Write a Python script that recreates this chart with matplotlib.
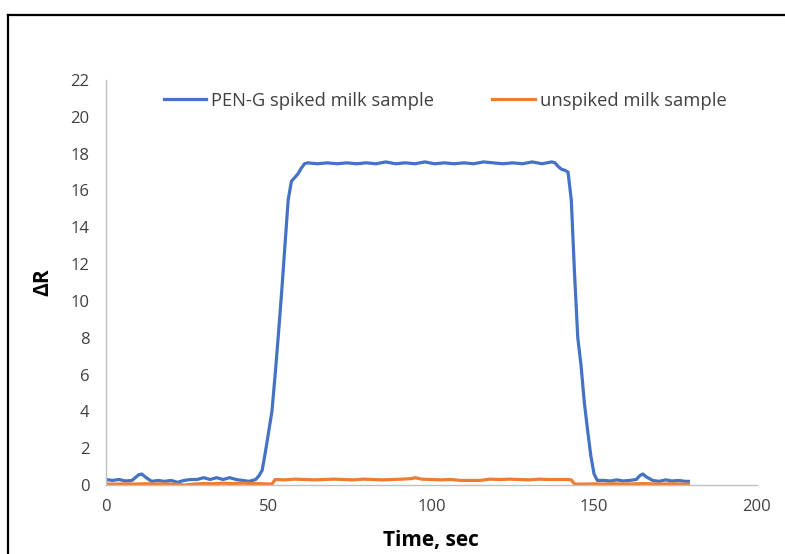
import matplotlib.pyplot as plt
from matplotlib.lines import Line2D

# PEN-G spiked milk sample (time in s, delta R)
spiked_t = [0, 2, 4, 6, 8, 10, 11, 12, 14, 16, 18, 20, 22, 24, 26, 28, 30, 32, 34, 36,
            38, 40, 42, 44, 46, 47, 48, 49, 50, 51, 52, 53, 54, 55, 56, 57, 58, 59, 60, 61,
            62, 65, 68, 71, 74, 77, 80, 83, 86, 89, 92, 95, 98, 101, 104, 107, 110, 113,
            116, 119, 122, 125, 128, 131, 134, 137, 138, 139, 140, 141, 142, 143, 144, 145,
            146, 147, 148, 149, 150, 151, 153, 155, 157, 159, 161, 163, 164, 165, 166, 168,
            170, 172, 174, 176, 178, 179]
spiked_r = [0.3, 0.25, 0.3, 0.22, 0.25, 0.55, 0.6, 0.45, 0.2, 0.25, 0.2, 0.25, 0.15, 0.25,
            0.3, 0.3, 0.4, 0.3, 0.4, 0.3, 0.4, 0.3, 0.25, 0.2, 0.3, 0.5, 0.8, 1.8, 2.9, 4.0,
            6.0, 8.2, 10.5, 13.0, 15.5, 16.5, 16.7, 16.9, 17.2, 17.45, 17.5, 17.45, 17.5,
            17.45, 17.5, 17.45, 17.5, 17.45, 17.55, 17.45, 17.5, 17.45, 17.55, 17.45, 17.5,
            17.45, 17.5, 17.45, 17.55, 17.5, 17.45, 17.5, 17.45, 17.55, 17.45, 17.55, 17.5,
            17.3, 17.15, 17.1, 17.0, 15.5, 11.5, 8.0, 6.5, 4.5, 3.0, 1.6, 0.6, 0.25, 0.25,
            0.22, 0.28, 0.22, 0.25, 0.3, 0.5, 0.6, 0.45, 0.25, 0.2, 0.28, 0.22, 0.25, 0.2, 0.2]

# unspiked milk sample
plain_t = [0, 3, 6, 9, 12, 15, 18, 21, 24, 27, 30, 33, 36, 39, 42, 45, 48, 51, 52, 55,
           58, 61, 64, 67, 70, 73, 76, 79, 82, 85, 88, 91, 94, 95, 97, 100, 103, 106, 109,
           112, 115, 118, 121, 124, 127, 130, 133, 136, 139, 142, 143, 144, 147, 150, 153,
           156, 159, 162, 165, 168, 171, 174, 177, 179]
plain_r = [0.05, 0.05, 0.06, 0.05, 0.07, 0.05, 0.06, 0.05, 0.0, 0.05, 0.08, 0.07, 0.1, 0.08,
           0.1, 0.08, 0.07, 0.05, 0.3, 0.28, 0.32, 0.3, 0.28, 0.3, 0.32, 0.3, 0.28, 0.32,
           0.3, 0.28, 0.3, 0.32, 0.35, 0.4, 0.32, 0.3, 0.28, 0.3, 0.25, 0.25, 0.25, 0.32,
           0.3, 0.32, 0.3, 0.28, 0.32, 0.3, 0.3, 0.3, 0.28, 0.05, 0.05, 0.06, 0.05, 0.07,
           0.05, 0.06, 0.08, 0.06, 0.05, 0.07, 0.05, 0.05]

x_ticks = [0, 50, 100, 150, 200]
y_ticks = list(range(0, 23, 2))

plt.rcParams['font.family'] = ['Open Sans', 'DejaVu Sans']

fig = plt.figure(figsize=(7.85, 5.54), dpi=100)
ax = fig.add_axes([0.135, 0.1245, 0.829, 0.7311])

ax.plot(spiked_t, spiked_r, color='#4472C4', lw=2.3, label='PEN-G spiked milk sample')
ax.plot(plain_t, plain_r, color='#ED7D31', lw=2.3, label='unspiked milk sample')

ax.set_xlim(0, 200)
ax.set_ylim(0, 22)
ax.set_xticks(x_ticks)
ax.set_yticks(y_ticks)
ax.tick_params(axis='both', length=0, labelsize=12, colors='#404040')
ax.tick_params(axis='y', pad=12)
ax.tick_params(axis='x', pad=10)

for s in ['top', 'right']:
    ax.spines[s].set_visible(False)
for s in ['left', 'bottom']:
    ax.spines[s].set_color('#C0C0C0')
    ax.spines[s].set_linewidth(1)

ax.set_xlabel('Time, sec', fontsize=15, fontweight='bold', labelpad=11)
ax.set_ylabel('ΔR', fontsize=15, fontweight='bold', labelpad=12)

ax.legend(loc='upper center', bbox_to_anchor=(0.521, 1.012), ncol=2, frameon=False,
          fontsize=13.2, handlelength=2.3, handletextpad=0.27, columnspacing=3.2,
          labelcolor='#404040')

# outer black frame (only left and top edges fall inside the image)
fig.add_artist(Line2D([8 / 785, 8 / 785], [0, 1 - 15 / 554], color='black', lw=1.6))
fig.add_artist(Line2D([8 / 785, 1], [1 - 15 / 554, 1 - 15 / 554], color='black', lw=1.6))

fig.savefig('out.png', dpi=100)
